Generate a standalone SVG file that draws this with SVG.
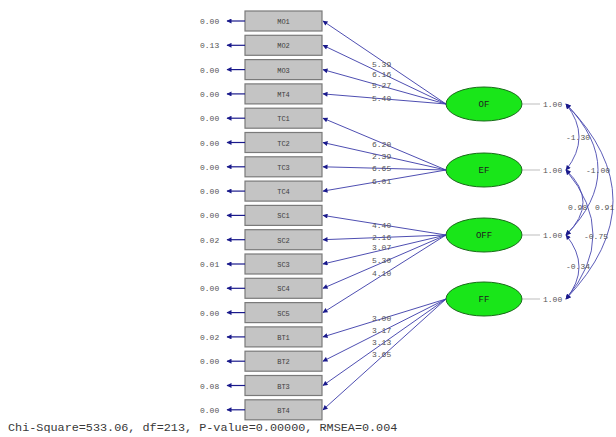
<svg xmlns="http://www.w3.org/2000/svg" width="616" height="437" viewBox="0 0 616 437">
<defs>
<marker id="ah" viewBox="0 0 10 10" refX="9" refY="5" markerWidth="7" markerHeight="5" orient="auto" markerUnits="userSpaceOnUse"><path d="M0,0 L10,5 L0,10 z" fill="#1a1a8c"/></marker>
<marker id="ahs" viewBox="0 0 10 10" refX="9" refY="5" markerWidth="7" markerHeight="5" orient="auto-start-reverse" markerUnits="userSpaceOnUse"><path d="M0,0 L10,5 L0,10 z" fill="#1a1a8c"/></marker>
<style>
.box{fill:#c4c4c4;stroke:#7a7a7a;stroke-width:1.2}
.ell{fill:#19e619;stroke:#1a6a1a;stroke-width:1}
.t{font-family:"Liberation Mono",monospace;font-size:8px;fill:#555555}
.bt{font-family:"Liberation Mono",monospace;font-size:7px;fill:#404040;text-anchor:middle}
.et{font-family:"Liberation Mono",monospace;font-size:9px;fill:#202020;text-anchor:middle}
.ld{stroke:#3a3aa8;stroke-width:0.9;fill:none;marker-end:url(#ah)}
.er{stroke:#1a1a8c;stroke-width:1.2;fill:none;marker-end:url(#ah)}
.cv{stroke:#4a4ab0;stroke-width:0.9;fill:none;marker-start:url(#ahs);marker-end:url(#ahs)}
.vl{stroke:#909090;stroke-width:0.6}
.foot{font-family:"Liberation Mono",monospace;font-size:11.8px;fill:#383838}
</style>
</defs>

<g id="observed">
<g id="n1"><rect class="box" x="245" y="11" width="77" height="20"/><text class="bt" x="283.5" y="24">MO1</text></g>
<g id="n2"><rect class="box" x="245" y="35.3" width="77" height="20"/><text class="bt" x="283.5" y="48.3">MO2</text></g>
<g id="n3"><rect class="box" x="245" y="59.6" width="77" height="20"/><text class="bt" x="283.5" y="72.6">MO3</text></g>
<g id="n4"><rect class="box" x="245" y="83.9" width="77" height="20"/><text class="bt" x="283.5" y="96.9">MT4</text></g>
<g id="n5"><rect class="box" x="245" y="108.2" width="77" height="20"/><text class="bt" x="283.5" y="121.2">TC1</text></g>
<g id="n6"><rect class="box" x="245" y="132.5" width="77" height="20"/><text class="bt" x="283.5" y="145.5">TC2</text></g>
<g id="n7"><rect class="box" x="245" y="156.8" width="77" height="20"/><text class="bt" x="283.5" y="169.8">TC3</text></g>
<g id="n8"><rect class="box" x="245" y="181.1" width="77" height="20"/><text class="bt" x="283.5" y="194.1">TC4</text></g>
<g id="n9"><rect class="box" x="245" y="205.4" width="77" height="20"/><text class="bt" x="283.5" y="218.4">SC1</text></g>
<g id="n10"><rect class="box" x="245" y="229.7" width="77" height="20"/><text class="bt" x="283.5" y="242.7">SC2</text></g>
<g id="n11"><rect class="box" x="245" y="254" width="77" height="20"/><text class="bt" x="283.5" y="267">SC3</text></g>
<g id="n12"><rect class="box" x="245" y="278.3" width="77" height="20"/><text class="bt" x="283.5" y="291.3">SC4</text></g>
<g id="n13"><rect class="box" x="245" y="302.6" width="77" height="20"/><text class="bt" x="283.5" y="315.6">SC5</text></g>
<g id="n14"><rect class="box" x="245" y="326.9" width="77" height="20"/><text class="bt" x="283.5" y="339.9">BT1</text></g>
<g id="n15"><rect class="box" x="245" y="351.2" width="77" height="20"/><text class="bt" x="283.5" y="364.2">BT2</text></g>
<g id="n16"><rect class="box" x="245" y="375.5" width="77" height="20"/><text class="bt" x="283.5" y="388.5">BT3</text></g>
<g id="n17"><rect class="box" x="245" y="399.8" width="77" height="20"/><text class="bt" x="283.5" y="412.8">BT4</text></g>
</g>

<g id="latent">
<g id="OF"><ellipse class="ell" cx="484" cy="104" rx="38" ry="17"/><text class="et" x="484" y="107">OF</text></g>
<g id="EF"><ellipse class="ell" cx="484" cy="170" rx="38" ry="17"/><text class="et" x="484" y="173">EF</text></g>
<g id="OFF"><ellipse class="ell" cx="484" cy="235" rx="38" ry="17"/><text class="et" x="484" y="238">OFF</text></g>
<g id="FF"><ellipse class="ell" cx="484" cy="299" rx="38" ry="17"/><text class="et" x="484" y="302">FF</text></g>
</g>

<g id="connectors">
<path class="er" d="M245,21 H227"/><path class="er" d="M245,45.3 H227"/><path class="er" d="M245,69.6 H227"/><path class="er" d="M245,93.9 H227"/>
<path class="er" d="M245,118.2 H227"/><path class="er" d="M245,142.5 H227"/><path class="er" d="M245,166.8 H227"/><path class="er" d="M245,191.1 H227"/>
<path class="er" d="M245,215.4 H227"/><path class="er" d="M245,239.7 H227"/><path class="er" d="M245,264 H227"/><path class="er" d="M245,288.3 H227"/>
<path class="er" d="M245,312.6 H227"/><path class="er" d="M245,336.9 H227"/><path class="er" d="M245,361.2 H227"/><path class="er" d="M245,385.5 H227"/>
<path class="er" d="M245,409.8 H227"/>
<path class="ld" d="M446,104 L323,21"/><path class="ld" d="M446,104 L323,45.3"/><path class="ld" d="M446,104 L323,69.6"/><path class="ld" d="M446,104 L323,93.9"/>
<path class="ld" d="M446,170 L323,118.2"/><path class="ld" d="M446,170 L323,142.5"/><path class="ld" d="M446,170 L323,166.8"/><path class="ld" d="M446,170 L323,191.1"/>
<path class="ld" d="M446,235 L323,215.4"/><path class="ld" d="M446,235 L323,239.7"/><path class="ld" d="M446,235 L323,264"/><path class="ld" d="M446,235 L323,288.3"/><path class="ld" d="M446,235 L323,312.6"/>
<path class="ld" d="M446,299 L323,336.9"/><path class="ld" d="M446,299 L323,361.2"/><path class="ld" d="M446,299 L323,385.5"/><path class="ld" d="M446,299 L323,409.8"/>
<line class="vl" x1="522" y1="104" x2="540" y2="104"/><line class="vl" x1="522" y1="170" x2="540" y2="170"/><line class="vl" x1="522" y1="235" x2="540" y2="235"/><line class="vl" x1="522" y1="299" x2="540" y2="299"/>
<path class="cv" d="M566,104 Q592,137 566,170"/>
<path class="cv" d="M566,170 Q600,202 566,235"/>
<path class="cv" d="M566,235 Q592,267 566,299"/>
<path class="cv" d="M566,104 Q630,170 566,235"/>
<path class="cv" d="M566,170 Q620,235 566,299"/>
<path class="cv" d="M566,104 Q660,200 566,299"/>
</g>

<g id="labels">
<text class="t" x="200" y="24">0.00</text><text class="t" x="200" y="48.3">0.13</text><text class="t" x="200" y="72.6">0.00</text><text class="t" x="200" y="96.9">0.00</text>
<text class="t" x="200" y="121.2">0.00</text><text class="t" x="200" y="145.5">0.00</text><text class="t" x="200" y="169.8">0.00</text><text class="t" x="200" y="194.1">0.00</text>
<text class="t" x="200" y="218.4">0.00</text><text class="t" x="200" y="242.7">0.02</text><text class="t" x="200" y="267">0.01</text><text class="t" x="200" y="291.3">0.00</text>
<text class="t" x="200" y="315.6">0.00</text><text class="t" x="200" y="339.9">0.02</text><text class="t" x="200" y="364.2">0.00</text><text class="t" x="200" y="388.5">0.08</text>
<text class="t" x="200" y="412.8">0.00</text>

<text class="t" x="372" y="67">5.39</text><text class="t" x="372" y="77">6.16</text><text class="t" x="372" y="88">5.27</text><text class="t" x="372" y="101">5.40</text>
<text class="t" x="372" y="147">6.20</text><text class="t" x="372" y="159">2.39</text><text class="t" x="372" y="171">6.65</text><text class="t" x="372" y="184">6.01</text>
<text class="t" x="372" y="228">4.40</text><text class="t" x="372" y="240">2.16</text><text class="t" x="372" y="250">3.07</text><text class="t" x="372" y="263">5.30</text><text class="t" x="372" y="276">4.10</text>
<text class="t" x="372" y="321">3.00</text><text class="t" x="372" y="333">3.17</text><text class="t" x="372" y="345">3.13</text><text class="t" x="372" y="357">3.65</text>

<text class="t" x="543" y="107">1.00</text><text class="t" x="543" y="173">1.00</text><text class="t" x="543" y="238">1.00</text><text class="t" x="543" y="302">1.00</text>
<text class="t" x="566" y="140">-1.30</text>
<text class="t" x="586" y="173">-1.00</text>
<text class="t" x="568" y="210">0.98</text>
<text class="t" x="595" y="210">0.91</text>
<text class="t" x="584" y="239">-0.75</text>
<text class="t" x="566" y="269">-0.34</text>
</g>

<text class="foot" x="8" y="431">Chi-Square=533.06, df=213, P-value=0.00000, RMSEA=0.004</text>
</svg>
